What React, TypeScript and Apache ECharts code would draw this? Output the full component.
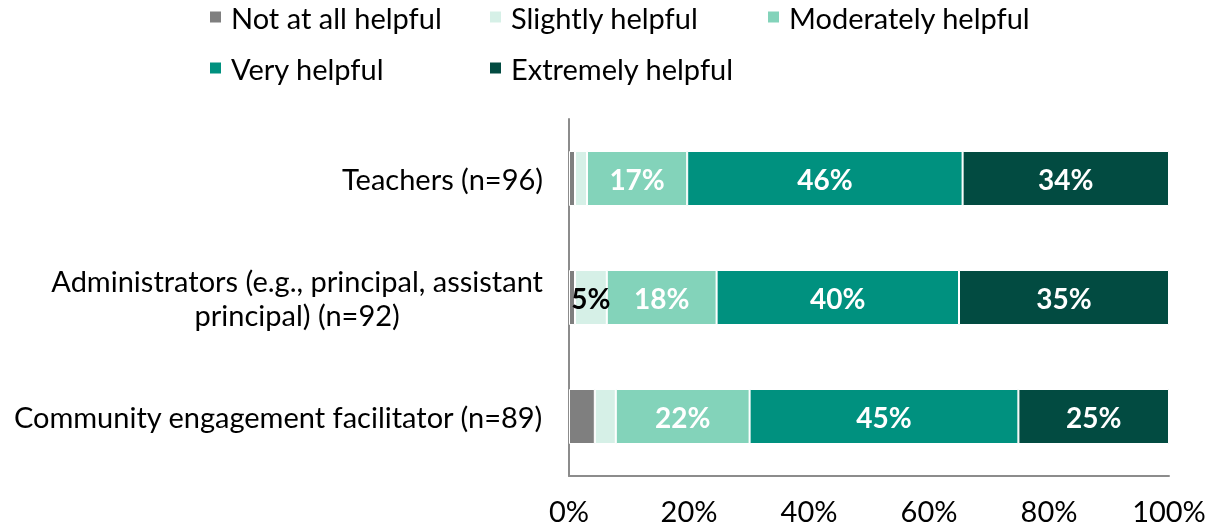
import React, { useEffect, useRef } from "react";
import * as echarts from "echarts";

const categories = [
  "Teachers (n=96)",
  "Administrators (e.g., principal, assistant\nprincipal) (n=92)",
  "Community engagement facilitator (n=89)",
];
const seriesNames = [
  "Not at all helpful",
  "Slightly helpful",
  "Moderately helpful",
  "Very helpful",
  "Extremely helpful",
];
const notAtAll = [1.0, 1.0, 4.3];
const slightly = [2.0, 5.3, 3.5];
const moderately = [16.7, 18.3, 22.3];
const very = [45.9, 40.4, 44.8];
const extremely = [34.4, 35.0, 25.1];
const xTicks = [0, 20, 40, 60, 80, 100];

const colors = ["#7f7f7f", "#d6f0e7", "#83d3ba", "#00917f", "#024b41"];
const labelColors = ["#000000", "#000000", "#ffffff", "#ffffff", "#ffffff"];
const FONT = "Lato, 'Noto Sans', sans-serif";
const FS = 29;

export default function App() {
  const ref = useRef<HTMLDivElement>(null);
  useEffect(() => {
    if (!ref.current) return;
    const chart = echarts.init(ref.current, null, { renderer: "svg" });
    const values = [notAtAll, slightly, moderately, very, extremely];
    const legendPos = [
      { left: 208, top: 0 },
      { left: 488, top: 0 },
      { left: 766, top: 0 },
      { left: 208, top: 51 },
      { left: 488, top: 51 },
    ];
    chart.setOption({
      animation: false,
      textStyle: { fontFamily: FONT },
      legend: seriesNames.map((n, i) => ({
        data: [n],
        left: legendPos[i].left,
        top: legendPos[i].top,
        padding: 0,
        itemWidth: 13,
        itemHeight: 13,
        icon: "rect",
        textStyle: {
          fontFamily: FONT,
          fontSize: FS,
          lineHeight: 34,
          color: "#000",
          padding: [0, 0, 0, 4],
        },
      })),
      grid: { left: 569, right: 46, top: 119, bottom: 53 },
      xAxis: {
        type: "value",
        min: 0,
        max: 100,
        interval: 20,
        axisLine: { show: true, lineStyle: { color: "#8c8c8c", width: 2 } },
        axisTick: { show: false },
        splitLine: { show: false },
        axisLabel: {
          margin: 20,
          fontSize: FS,
          color: "#000",
          fontFamily: FONT,
          formatter: (v: number) => (xTicks.includes(v) ? `${v}%` : ""),
        },
      },
      yAxis: {
        type: "category",
        inverse: true,
        data: categories,
        axisLine: { show: true, lineStyle: { color: "#8c8c8c", width: 2 } },
        axisTick: { show: false },
        axisLabel: {
          margin: 26,
          fontSize: FS,
          color: "#000",
          fontFamily: FONT,
          lineHeight: 34,
          formatter: (v: string) =>
            v
              .split("\n")
              .map((l) => `{c|${l}}`)
              .join("\n"),
          rich: {
            c: {
              fontSize: FS,
              fontFamily: FONT,
              color: "#000",
              align: "center",
              lineHeight: 34,
            },
          },
        },
      },
      series: seriesNames.map((n, i) => ({
        name: n,
        type: "bar",
        stack: "total",
        barWidth: 55,
        data: values[i],
        itemStyle: { color: colors[i], borderColor: "#ffffff", borderWidth: 1 },
        label: {
          show: true,
          position: "inside",
          color: labelColors[i],
          fontSize: 28,
          fontWeight: "bold",
          fontFamily: FONT,
          formatter: (p: any) =>
            Math.round(p.value) >= 5 ? `${Math.round(p.value)}%` : "",
        },
      })),
    });
    return () => chart.dispose();
  }, []);
  return (
    <div
      ref={ref}
      style={{ position: "fixed", left: 0, top: 0, width: 1215, height: 529 }}
    />
  );
}
